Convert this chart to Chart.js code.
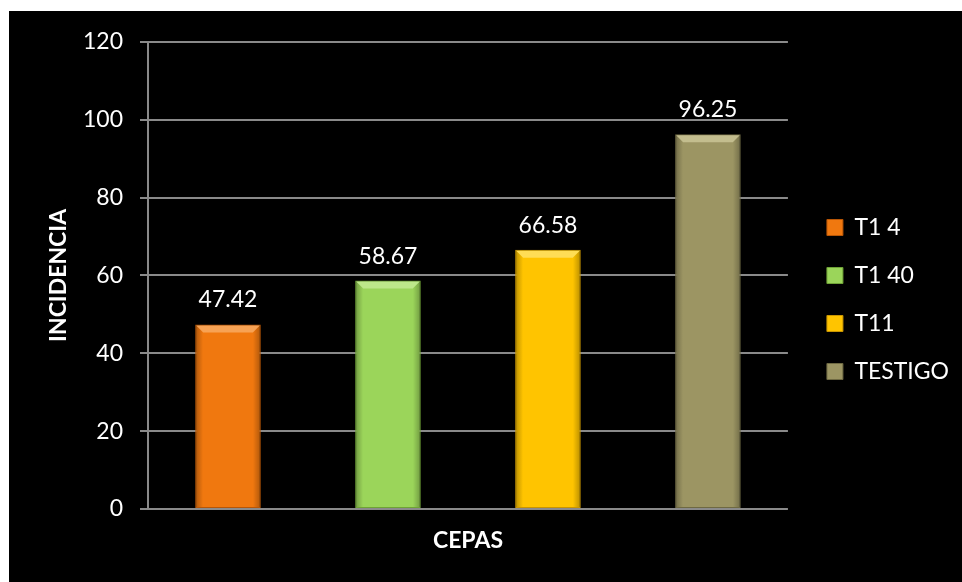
<!DOCTYPE html>
<html>
<head>
<meta charset="utf-8">
<script src="https://cdn.jsdelivr.net/npm/chart.js@4.4.1/dist/chart.umd.min.js"></script>
<style>
  html, body { margin: 0; padding: 0; background: #fff; }
  #wrap { position: absolute; left: 9px; top: 11px; width: 953px; height: 571px; background: #000; }
</style>
</head>
<body>
<div id="wrap"><canvas id="chart" width="953" height="571"></canvas></div>
<script>
const categories = ['T1 4', 'T1 40', 'T11', 'TESTIGO'];
const incidencia = [47.42, 58.67, 66.58, 96.25];
const yTicks = [0, 20, 40, 60, 80, 100, 120];

const barColors = ['#F0780F', '#9BD55A', '#FFC400', '#9C9563'];
const edgeColors = ['#B85606', '#6FA336', '#C99500', '#6E6942'];
const topColors = ['#F7A254', '#BDE88A', '#FFDD55', '#C3BD8E'];

// shade the sides and light the top of every bar, using the bar geometry from the chart
const bevel = {
    id: 'bevel',
    afterDatasetsDraw(chart) {
        const ctx = chart.ctx
        chart.getDatasetMeta(0).data.forEach((bar, i) => {
            const half = bar.width / 2
            const left = bar.x - half
            const right = bar.x + half
            const h = bar.base - bar.y
            const d = 8
            ctx.save()
            const g = ctx.createLinearGradient(left, 0, right, 0)
            g.addColorStop(0, 'rgba(0,0,0,0.28)')
            g.addColorStop(0.12, 'rgba(0,0,0,0)')
            g.addColorStop(0.88, 'rgba(0,0,0,0)')
            g.addColorStop(1, 'rgba(0,0,0,0.28)')
            ctx.fillStyle = g
            ctx.fillRect(left + 1, bar.y + 1, bar.width - 2, h - 2)
            ctx.fillStyle = topColors[i]
            ctx.beginPath()
            ctx.moveTo(left + 1, bar.y + 1)
            ctx.lineTo(right - 1, bar.y + 1)
            ctx.lineTo(right - d, bar.y + d)
            ctx.lineTo(left + d, bar.y + d)
            ctx.closePath()
            ctx.fill()
            ctx.restore()
        })
    }
}

const valueLabels = {
    id: 'valueLabels',
    afterDatasetsDraw(chart) {
        const ctx = chart.ctx
        ctx.save()
        ctx.fillStyle = '#ffffff'
        ctx.font = '23px Lato'
        ctx.textAlign = 'center'
        ctx.textBaseline = 'bottom'
        chart.getDatasetMeta(0).data.forEach((bar, i) => {
            ctx.fillText(incidencia[i].toFixed(2), bar.x, bar.y - 13)
        })
        ctx.restore()
    }
}

const chart = new Chart(document.getElementById('chart'), {
    type: 'bar',
    data: {
        labels: categories,
        datasets: [{
            label: 'INCIDENCIA',
            data: incidencia,
            backgroundColor: barColors,
            borderColor: edgeColors,
            borderWidth: 1,
            borderSkipped: false,
            barPercentage: 0.41,
            categoryPercentage: 1
        }]
    },
    options: {
        responsive: false,
        animation: false,
        layout: { padding: { left: 0, top: 6, right: 3, bottom: 0 } },
        plugins: {
            tooltip: { enabled: false },
            legend: {
                position: 'right',
                labels: {
                    color: '#ffffff',
                    font: { family: 'Lato', size: 23 },
                    boxWidth: 16,
                    boxHeight: 16,
                    padding: 25,
                    generateLabels: function (c) {
                        return categories.map((name, i) => ({
                            text: name,
                            fillStyle: barColors[i],
                            strokeStyle: edgeColors[i],
                            lineWidth: 1,
                            fontColor: '#ffffff',
                            index: i
                        }))
                    }
                }
            }
        },
        scales: {
            x: {
                grid: { display: false },
                border: { display: false },
                ticks: { display: false },
                title: {
                    display: true,
                    text: 'CEPAS',
                    color: '#ffffff',
                    font: { family: 'Lato', size: 23, weight: 'bold' },
                    padding: { top: 0, bottom: 28 }
                },
                afterFit: function (scale) { scale.height = 73 }
            },
            y: {
                min: 0,
                max: 120,
                afterBuildTicks: function (scale) {
                    scale.ticks = yTicks.map(v => ({ value: v }))
                },
                grid: { color: '#8a8a8a', lineWidth: 2, tickLength: 8 },
                border: { color: '#8a8a8a', width: 2 },
                ticks: {
                    color: '#ffffff',
                    padding: 17,
                    font: { family: 'Lato', size: 23 }
                },
                title: {
                    display: true,
                    text: 'INCIDENCIA',
                    color: '#ffffff',
                    font: { family: 'Lato', size: 23, weight: 'bold' },
                    padding: { top: 36, bottom: 0 }
                },
                afterFit: function (scale) { scale.width = 139 }
            },
            gapTop: {
                position: 'top',
                display: true,
                grid: { display: false },
                border: { display: false },
                ticks: { display: false },
                afterFit: function (scale) { scale.height = 24 }
            },
            gap: {
                position: 'right',
                display: true,
                grid: { display: false },
                border: { display: false },
                ticks: { display: false },
                afterFit: function (scale) { scale.width = 14 }
            }
        }
    },
    plugins: [bevel, valueLabels]
})
</script>
</body>
</html>
